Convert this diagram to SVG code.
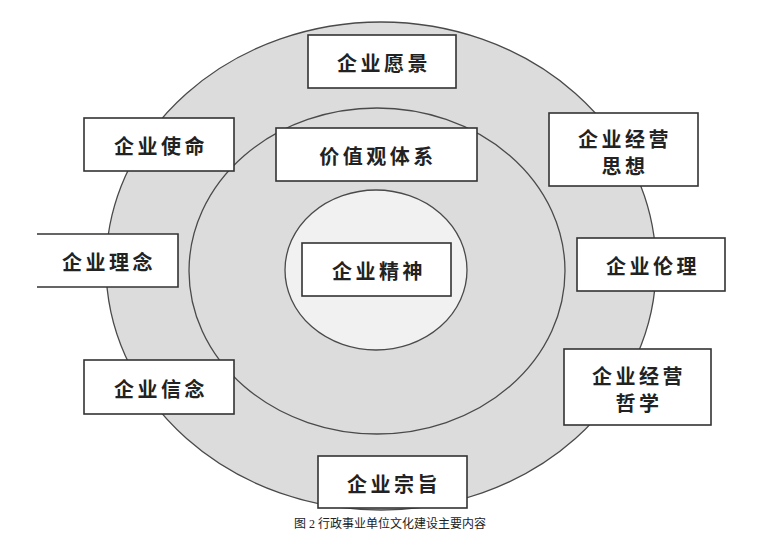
<svg xmlns="http://www.w3.org/2000/svg" width="778" height="537" viewBox="0 0 778 537">
<style>
.ring{stroke:#4a4a4a;stroke-width:1.3}
.box{fill:#ffffff;stroke:#333333;stroke-width:1.6}
.lbl{font-family:"Noto Sans CJK SC","Noto Sans",sans-serif;font-size:20px;fill:#222222;text-anchor:middle;dominant-baseline:central;letter-spacing:3.5px;font-weight:700}
.cap{font-family:"Liberation Serif","Noto Sans CJK SC",serif;font-size:12px;fill:#222222;text-anchor:middle}
</style>
<rect width="778" height="537" fill="#ffffff"/>
<g id="rings">
<ellipse class="ring" cx="381" cy="266" rx="275" ry="244" fill="#dcdcdc"/>
<ellipse class="ring" cx="377" cy="271" rx="188" ry="163" fill="#dcdcdc"/>
<ellipse class="ring" cx="376" cy="270" rx="91" ry="80" fill="#f1f1f1"/>
</g>
<g id="connectors"></g>
<g id="n-vision"><rect class="box" x="308" y="35" width="148" height="53"/><text class="lbl" x="384" y="62">企业愿景</text></g>
<g id="n-mission"><rect class="box" x="84" y="118" width="150" height="53"/><text class="lbl" x="161" y="145">企业使命</text></g>
<g id="n-values"><rect class="box" x="276" y="128" width="201" height="53"/><text class="lbl" x="378" y="155">价值观体系</text></g>
<g id="n-thought"><rect class="box" x="549" y="113" width="149" height="73"/><text class="lbl" x="625" y="138">企业经营</text><text class="lbl" x="625" y="165">思想</text></g>
<g id="n-concept"><path class="box" d="M37 234 H178 V287 H37"/><text class="lbl" x="109" y="261">企业理念</text></g>
<g id="n-spirit"><rect class="box" x="302" y="243" width="149" height="53"/><text class="lbl" x="379" y="270">企业精神</text></g>
<g id="n-ethics"><rect class="box" x="577" y="238" width="148" height="53"/><text class="lbl" x="653" y="265">企业伦理</text></g>
<g id="n-belief"><rect class="box" x="84" y="360" width="150" height="54"/><text class="lbl" x="161" y="388">企业信念</text></g>
<g id="n-philosophy"><rect class="box" x="564" y="349" width="147" height="76"/><text class="lbl" x="639" y="375">企业经营</text><text class="lbl" x="639" y="402">哲学</text></g>
<g id="n-purpose"><rect class="box" x="318" y="456" width="149" height="52"/><text class="lbl" x="394" y="483">企业宗旨</text></g>
<text class="cap" x="390" y="528">图 2 行政事业单位文化建设主要内容</text>
</svg>
